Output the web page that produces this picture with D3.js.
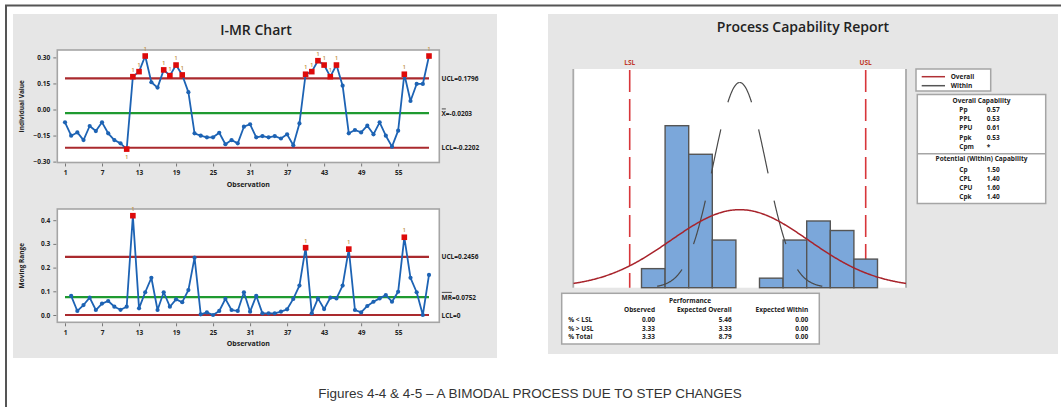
<!DOCTYPE html>
<html><head><meta charset="utf-8">
<script src="https://cdn.jsdelivr.net/npm/d3@7"></script>
<style>
body{margin:0;background:#fff;}
svg{display:block;}
text{font-family:"Open Sans","Noto Sans",Arial,sans-serif;}
</style>
</head><body>
<svg id="c" width="1061" height="407"></svg>
<script>
// ---------------- DATA ----------------
const observations = d3.range(1, 61);
const individualValues = [
 -0.074,-0.151,-0.132,-0.176,-0.095,-0.124,-0.074,-0.137,-0.176,-0.195,
 -0.228, 0.189, 0.218, 0.308, 0.157, 0.126, 0.228, 0.195, 0.256, 0.199,
  0.100,-0.137,-0.151,-0.160,-0.160,-0.134,-0.200,-0.176,-0.195,-0.099,
 -0.085,-0.160,-0.153,-0.160,-0.153,-0.167,-0.143,-0.206,-0.080, 0.203,
  0.218, 0.281, 0.256, 0.189, 0.256, 0.137,-0.137,-0.118,-0.132,-0.093,
 -0.143,-0.074,-0.151,-0.214,-0.122, 0.203, 0.049, 0.147, 0.147, 0.308];
const movingRanges = [ // observations 2..60
  0.081,0.017,0.042,0.073,0.021,0.048,0.059,0.035,0.022,
  0.035,0.419,0.028,0.096,0.157,0.021,0.096,0.035,0.066,0.054,
  0.105,0.242,0.003,0.011,0.000,0.017,0.068,0.021,0.017,0.096,
  0.014,0.081,0.007,0.007,0.007,0.014,0.024,0.068,0.124,0.284,
  0.007,0.070,0.025,0.073,0.070,0.124,0.278,0.021,0.011,0.038,
  0.056,0.070,0.084,0.056,0.098,0.328,0.157,0.096,0.000,0.169];
const iLimits = {ucl:0.1796, cl:-0.0203, lcl:-0.2202};
const mrLimits = {ucl:0.2456, cl:0.0752, lcl:0};
const xTickValues = [1,7,13,19,25,31,37,43,49,55];
const iTickValues = [-0.30,-0.15,0.00,0.15,0.30];
const mrTickValues = [0.0,0.1,0.2,0.3,0.4];

const binEdges = [-0.27,-0.21,-0.15,-0.09,-0.03,0.03,0.09,0.15,0.21,0.27,0.33];
const binCounts = [2,17,14,5,0,1,5,7,6,3];
const specLimits = {lsl:-0.30, usl:0.30};
const processMean = -0.0203;
const sigmaOverall = 0.1754;
const sigmaWithin = 0.0667;
const sampleSize = 60;

const overallCap = [["Pp","0.57"],["PPL","0.53"],["PPU","0.61"],["Ppk","0.53"],["Cpm","*"]];
const withinCap = [["Cp","1.50"],["CPL","1.40"],["CPU","1.60"],["Cpk","1.40"]];
const perfHeaders = ["Observed","Expected Overall","Expected Within"];
const perfRows = [["% < LSL","0.00","5.46","0.00"],["% > USL","3.33","3.33","0.00"],["% Total","3.33","8.79","0.00"]];

// ---------------- DRAW ----------------
const svg = d3.select('#c');
svg.append('rect').attr('width',1061).attr('height',407).attr('fill','#fff');

function txt(g,x,y,s,o={}){
  const t=g.append('text').attr('x',x).attr('y',y).text(s)
    .attr('font-size',o.size||7).attr('fill',o.fill||'#222')
    .attr('text-anchor',o.anchor||'start')
    .attr('font-weight',o.weight||600);
  if(o.family) t.style('font-family',o.family);
  return t;
}

// frame
svg.append('line').attr('x1',5).attr('x2',1061).attr('y1',5.5).attr('y2',5.5).attr('stroke','#555').attr('stroke-width',2);
svg.append('line').attr('x1',6).attr('x2',6).attr('y1',5).attr('y2',407).attr('stroke','#555').attr('stroke-width',2);

// panels
svg.append('rect').attr('x',13).attr('y',14).attr('width',484).attr('height',344).attr('fill','#e6e6e6');
svg.append('rect').attr('x',548).attr('y',14).attr('width',510).attr('height',340).attr('fill','#e6e6e6');

// caption
const cap = txt(svg,530,398,"Figures 4-4 & 4-5 \u2013 A BIMODAL PROCESS DUE TO STEP CHANGES",
  {size:16,anchor:'middle',weight:400,fill:'#333',family:'"Liberation Sans",Arial,sans-serif'});
{ const w = cap.node().getComputedTextLength(); cap.attr('font-size',16*424/w); }

// ---------------- I-MR ----------------
const L = svg.append('g');
txt(L,256,35,"I-MR Chart",{size:14,anchor:'middle',weight:600});

const x = d3.scaleLinear().domain([1,60]).range([65,429]);
const boxX0=57.3, boxX1=439.3;

function controlChart(g, y0, y1, yScale, ticks, fmt, values, xs, lim, yTitle, labels){
  g.append('rect').attr('x',boxX0).attr('y',y0).attr('width',boxX1-boxX0).attr('height',y1-y0)
   .attr('fill','#fff').attr('stroke','#a5a5a5').attr('stroke-width',1.6);
  const ya = d3.axisLeft(yScale).tickValues(ticks).tickFormat(fmt).tickSize(3).tickPadding(3);
  const ga = g.append('g').attr('transform',`translate(${boxX0-1},0)`).call(ya);
  ga.select('.domain').remove();
  ga.selectAll('line').attr('stroke','#777');
  ga.selectAll('text').attr('font-size',6.5).attr('font-weight',700).attr('fill','#222').style('font-family','"Open Sans",Arial,sans-serif');
  const xa = d3.axisBottom(x).tickValues(xTickValues).tickSize(3).tickPadding(4);
  const gx = g.append('g').attr('transform',`translate(0,${y1+1})`).call(xa);
  gx.select('.domain').remove();
  gx.selectAll('line').attr('stroke','#777');
  gx.selectAll('text').attr('font-size',6.5).attr('font-weight',700).attr('fill','#222').style('font-family','"Open Sans",Arial,sans-serif');
  txt(g,(boxX0+boxX1)/2,y1+24,"Observation",{size:7,anchor:'middle',weight:700});
  txt(g,0,0,yTitle,{size:6.5,anchor:'middle',weight:700}).attr('transform',`translate(24,${(y0+y1)/2}) rotate(-90)`);
  // limit lines
  [['ucl','#aa2a2e'],['lcl','#aa2a2e'],['cl','#1f9a30']].forEach(([k,c])=>{
    g.append('line').attr('x1',x(1)).attr('x2',x(60)).attr('y1',yScale(lim[k])).attr('y2',yScale(lim[k]))
     .attr('stroke',c).attr('stroke-width',2.2);
  });
  // series
  const pts = values.map((v,i)=>({o:xs[i],v}));
  g.append('path').datum(pts).attr('fill','none').attr('stroke','#1d63b4').attr('stroke-width',1.8)
   .attr('stroke-linejoin','round')
   .attr('d',d3.line().x(d=>x(d.o)).y(d=>yScale(d.v)));
  g.selectAll(null).data(pts.filter(d=>d.v<=lim.ucl && d.v>=lim.lcl)).enter().append('circle')
   .attr('cx',d=>x(d.o)).attr('cy',d=>yScale(d.v)).attr('r',2.1).attr('fill','#1d63b4');
  const out = pts.filter(d=>d.v>lim.ucl || (d.v<lim.lcl));
  g.selectAll(null).data(out).enter().append('rect')
   .attr('x',d=>x(d.o)-2.8).attr('y',d=>yScale(d.v)-2.8).attr('width',5.6).attr('height',5.6).attr('fill','#dd0a0a');
  out.forEach(d=>{
    const below = d.v<lim.lcl;
    txt(g,x(d.o),yScale(d.v)+(below?10:-5),"1",{size:6,anchor:'middle',weight:600,fill:'#c29245'});
  });
  // right labels
  labels.forEach(l=>{
    const t = txt(g,441.5,yScale(l.v)+2.5,l.s,{size:6.5,weight:700});
    if(l.bar){ // overbar over first chars
      const tmp = txt(g,0,-100,l.bar,{size:6.5,weight:700}); const bw = tmp.node().getComputedTextLength(); tmp.remove();
      g.append('line').attr('x1',441.8).attr('x2',441.5+bw).attr('y1',yScale(l.v)-4.8).attr('y2',yScale(l.v)-4.8)
       .attr('stroke','#222').attr('stroke-width',0.8);
    }
  });
}

const yI = d3.scaleLinear().domain([-0.3,0.3]).range([161.6,57.4]);
controlChart(L,50,162.5,yI,iTickValues,d3.format('.2f'),individualValues,observations,iLimits,"Individual Value",
 [{v:iLimits.ucl,s:"UCL=0.1796"},{v:iLimits.cl-0.004,s:"X=-0.0203",bar:"X"},{v:iLimits.lcl,s:"LCL=-0.2202"}]);

const yMR = d3.scaleLinear().domain([0,0.4]).range([315,220.2]);
controlChart(L,209,322.3,yMR,mrTickValues,d3.format('.1f'),movingRanges,observations.slice(1),mrLimits,"Moving Range",
 [{v:mrLimits.ucl,s:"UCL=0.2456"},{v:mrLimits.cl,s:"MR=0.0752",bar:"MR"},{v:mrLimits.lcl,s:"LCL=0"}]);

// ---------------- CAPABILITY ----------------
const R = svg.append('g');
txt(R,803,32,"Process Capability Report",{size:14,anchor:'middle',weight:600});

const px0=573.3, px1=906, py0=69, py1=287.7;
R.append('rect').attr('x',px0).attr('y',py0).attr('width',px1-px0).attr('height',py1-py0).attr('fill','#fff');
R.append('line').attr('x1',px0).attr('x2',px0).attr('y1',py0).attr('y2',py1).attr('stroke','#aaa').attr('stroke-width',1.8);
R.append('line').attr('x1',px1).attr('x2',px1).attr('y1',py0).attr('y2',py1).attr('stroke','#aaa').attr('stroke-width',1.8);

const xh = d3.scaleLinear().domain([specLimits.lsl,specLimits.usl]).range([629.7,865.7]);
const yh = d3.scaleLinear().domain([0,20]).range([py1,py1-190.6]);

R.append('clipPath').attr('id','pc').append('rect').attr('x',px0).attr('y',py0).attr('width',px1-px0).attr('height',py1-py0+1);

// spec lines
[['lsl','LSL'],['usl','USL']].forEach(([k,s])=>{
  R.append('line').attr('x1',xh(specLimits[k])).attr('x2',xh(specLimits[k])).attr('y1',py0+1).attr('y2',py1)
   .attr('stroke','#d8363a').attr('stroke-width',1.6).attr('stroke-dasharray','22,7');
  txt(R,xh(specLimits[k]),65,s,{size:6.5,anchor:'middle',weight:700,fill:'#c0392b'});
});

// bars
const bars = binCounts.map((c,i)=>({x0:binEdges[i],x1:binEdges[i+1],c}));
R.selectAll(null).data(bars).enter().append('rect')
 .attr('x',d=>xh(d.x0)).attr('width',d=>xh(d.x1)-xh(d.x0))
 .attr('y',d=>yh(d.c)).attr('height',d=>yh(0)-yh(d.c))
 .attr('fill','#7ba7da').attr('stroke','#555').attr('stroke-width',1.4);

// normal curves
const scaleN = sampleSize*(binEdges[1]-binEdges[0]);
const pdf=(v,m,s)=>Math.exp(-0.5*((v-m)/s)**2)/(s*Math.sqrt(2*Math.PI));
const line = d3.line().x(d=>xh(d[0])).y(d=>yh(d[1])).curve(d3.curveLinear);
const xmin = xh.invert(px0), xmax = xh.invert(px1);
const ov = d3.range(xmin, xmax+0.001, 0.002).map(v=>[v, scaleN*pdf(v,processMean,sigmaOverall)]);
const half = dir => d3.range(0, 3.15*sigmaWithin, 0.001).map(dv=>{const v=processMean+dir*dv; return [v, scaleN*pdf(v,processMean,sigmaWithin)];});
[1,-1].forEach(dir=>{
  R.append('path').datum(half(dir)).attr('d',line).attr('fill','none').attr('stroke','#4a4a4a')
   .attr('stroke-width',1.2).attr('stroke-dasharray','45,28').attr('stroke-dashoffset',21).attr('clip-path','url(#pc)');
});
R.append('path').datum(ov).attr('d',line).attr('fill','none').attr('stroke','#a8232b').attr('stroke-width',1.5).attr('clip-path','url(#pc)');

// legend
R.append('rect').attr('x',916).attr('y',69).attr('width',74.7).attr('height',22).attr('fill','#fff').attr('stroke','#a5a5a5').attr('stroke-width',1.5);
R.append('line').attr('x1',921.7).attr('x2',945).attr('y1',76.7).attr('y2',76.7).attr('stroke','#b03035').attr('stroke-width',1.5);
R.append('line').attr('x1',921.7).attr('x2',945).attr('y1',85.7).attr('y2',85.7).attr('stroke','#555').attr('stroke-width',1.5);
txt(R,950.7,79,"Overall",{size:6.5,weight:700});
txt(R,950.7,88,"Within",{size:6.5,weight:700});

// capability tables
R.append('rect').attr('x',917.3).attr('y',94.5).attr('width',128.4).attr('height',109).attr('fill','#fff').attr('stroke','#a5a5a5').attr('stroke-width',1.5);
R.append('line').attr('x1',917.3).attr('x2',1045.7).attr('y1',153.7).attr('y2',153.7).attr('stroke','#a5a5a5').attr('stroke-width',1.5);
txt(R,981.5,102.5,"Overall Capability",{size:6.5,anchor:'middle',weight:700});
const oy=[112,121,130,139.7,148.7];
overallCap.forEach((r,i)=>{ txt(R,959.3,oy[i],r[0],{size:6.5,weight:700}); txt(R,986.7,oy[i],r[1],{size:6.5,weight:700}); });
txt(R,981.5,161,"Potential (Within) Capability",{size:6.5,anchor:'middle',weight:700});
withinCap.forEach((r,i)=>{ const yy=171.5+i*9.2; txt(R,959.3,yy,r[0],{size:6.5,weight:700}); txt(R,986.7,yy,r[1],{size:6.5,weight:700}); });

// performance table
R.append('rect').attr('x',561.7).attr('y',293.3).attr('width',257.6).attr('height',50.7).attr('fill','#fff').attr('stroke','#a5a5a5').attr('stroke-width',1.5);
txt(R,690,303,"Performance",{size:6.5,anchor:'middle',weight:700});
const colR=[655,731.7,808.3];
perfHeaders.forEach((h,i)=>txt(R,colR[i],311.7,h,{size:6.5,anchor:'end',weight:700}));
perfRows.forEach((r,j)=>{
  const yy=322.3+j*8.3;
  txt(R,568.3,yy,r[0],{size:6.5,weight:700});
  r.slice(1).forEach((v,i)=>txt(R,colR[i],yy,v,{size:6.5,anchor:'end',weight:700}));
});
</script>
</body></html>
